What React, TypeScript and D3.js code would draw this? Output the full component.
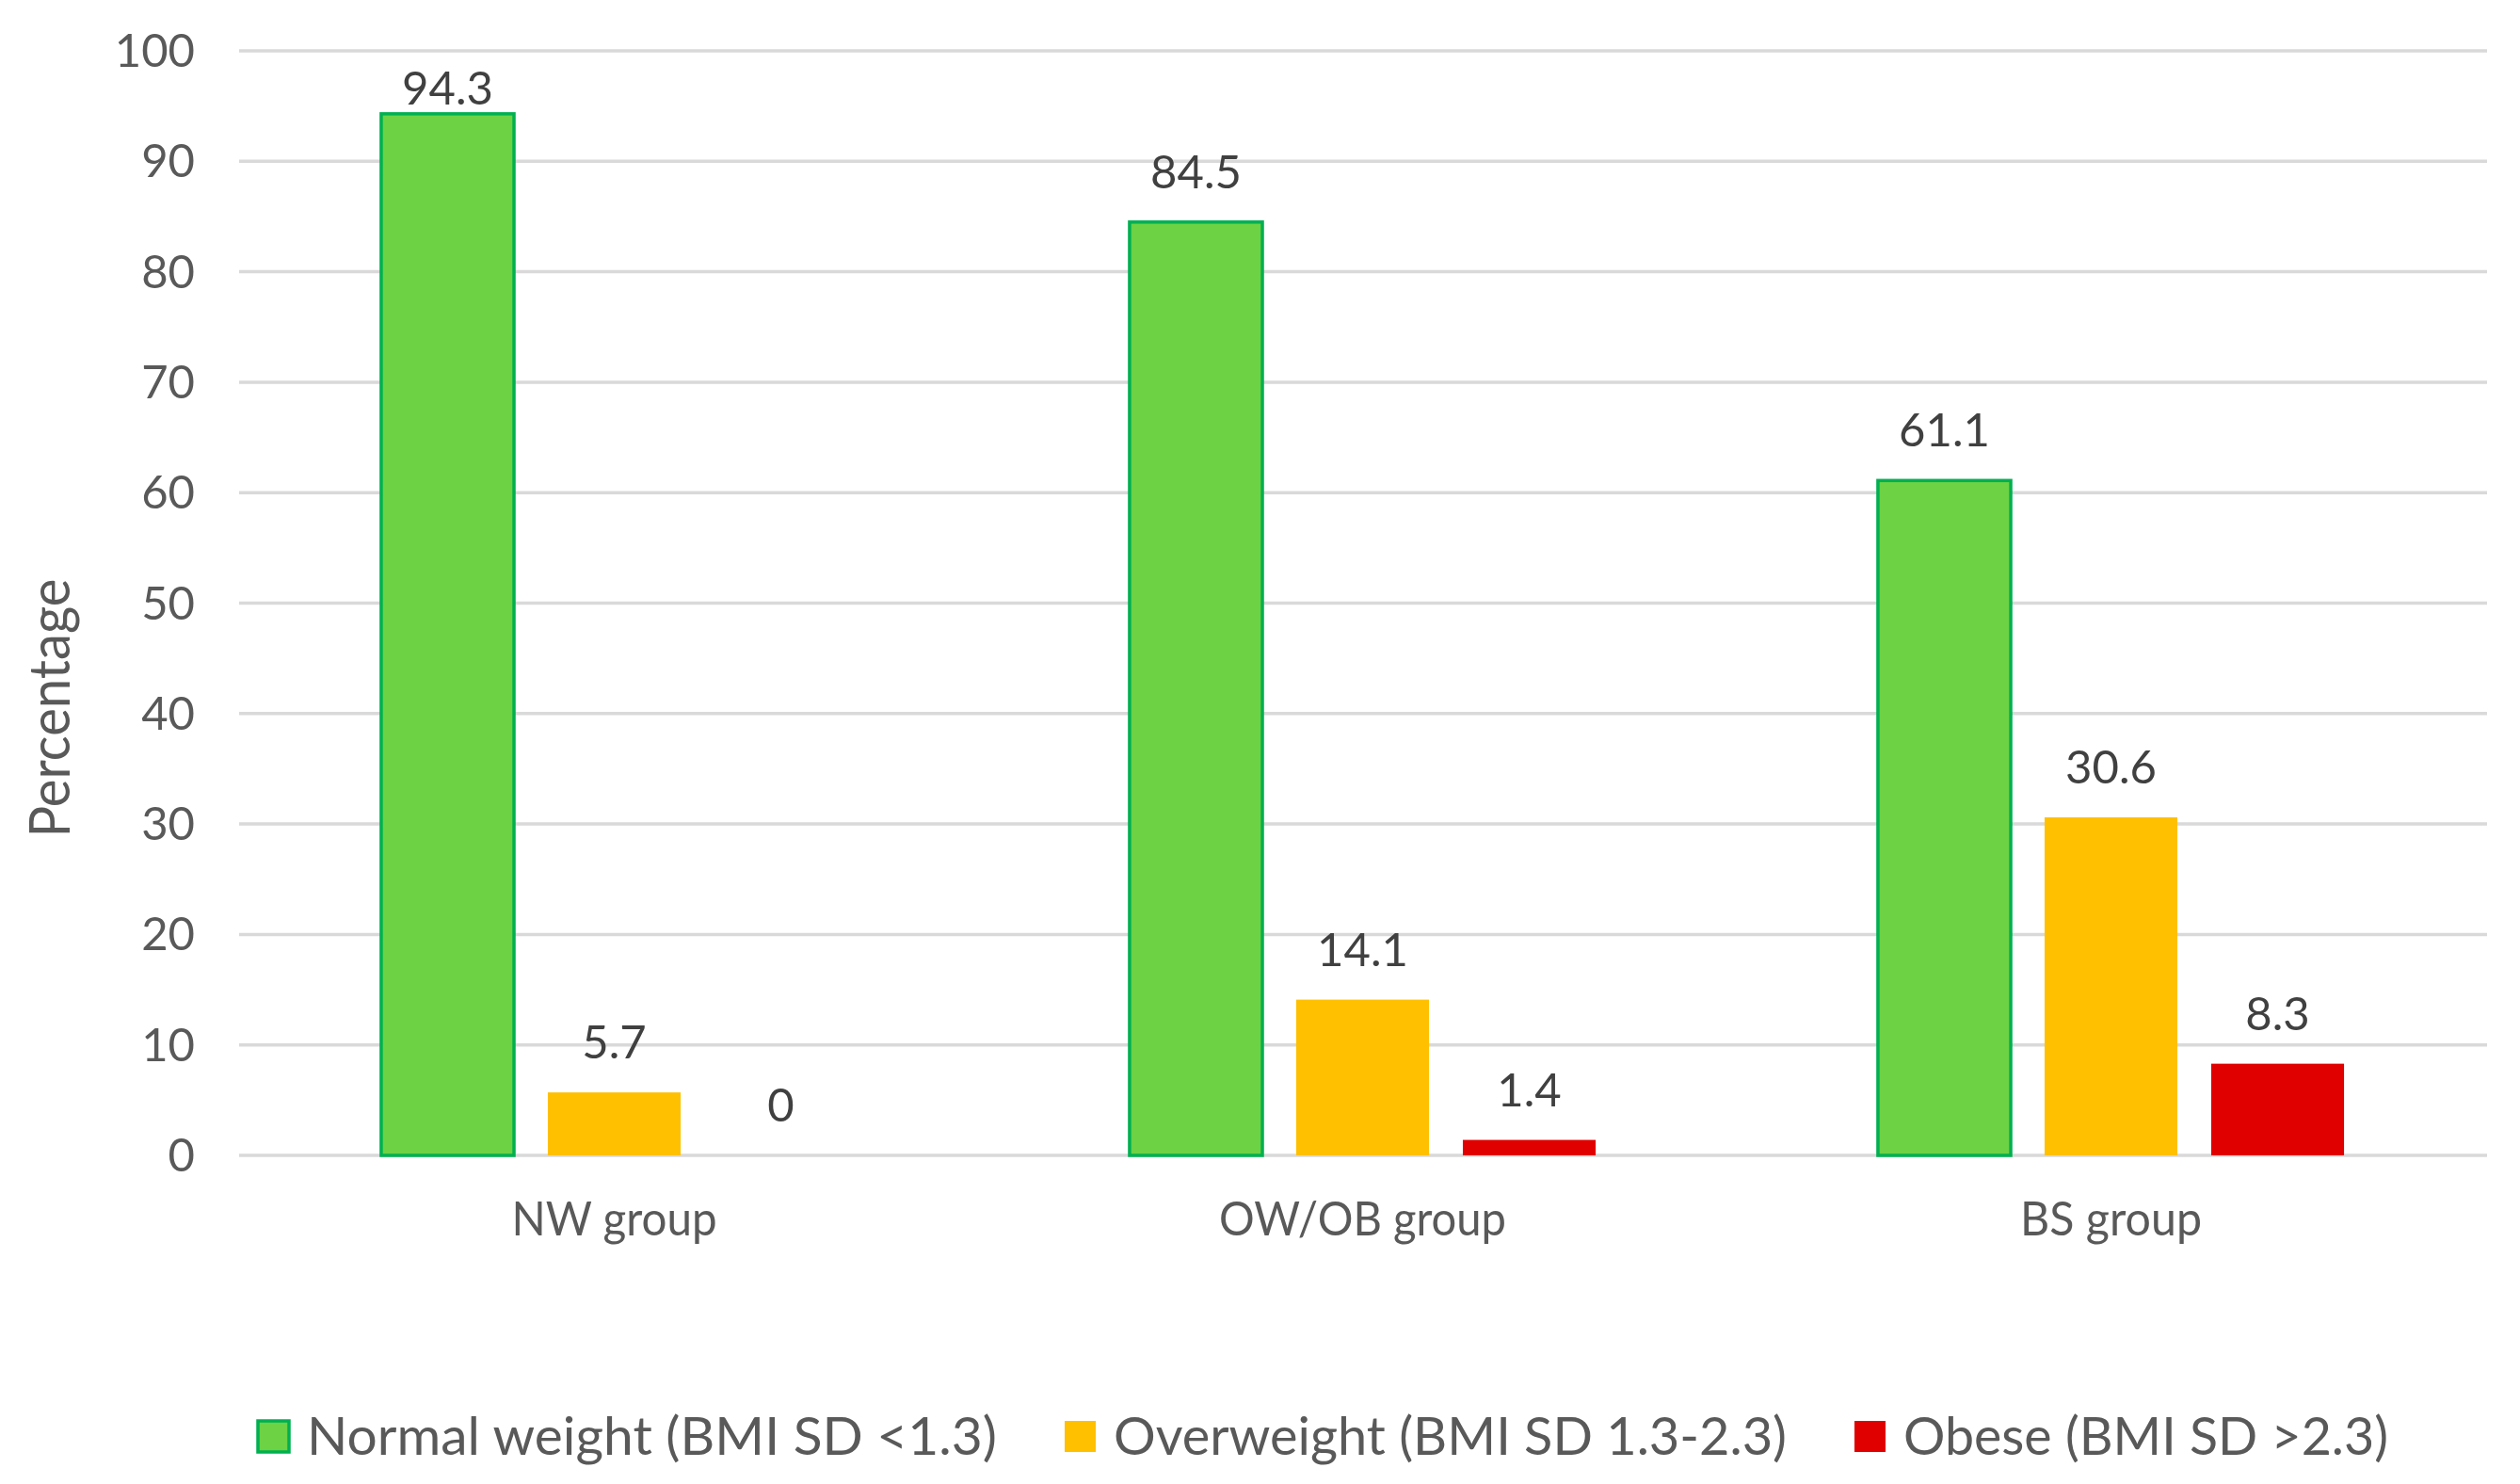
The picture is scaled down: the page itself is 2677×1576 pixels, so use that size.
import * as d3 from 'd3'

const categories = ['NW group', 'OW/OB group', 'BS group']
const seriesNames = ['Normal weight (BMI SD <1.3)', 'Overweight (BMI SD 1.3-2.3)', 'Obese (BMI SD >2.3)']
const normalWeight = [94.3, 84.5, 61.1]
const overweight = [5.7, 14.1, 30.6]
const obese = [0, 1.4, 8.3]
const yTicks = [0, 10, 20, 30, 40, 50, 60, 70, 80, 90, 100]

const seriesValues = [normalWeight, overweight, obese]
const fills = ['#6DD244', '#FFC000', '#E00000']
const strokes = ['#00B050', 'none', 'none']

const W = 2677
const H = 1576
const plot = { left: 255, right: 2640, top: 54, bottom: 1227 }
const font = 'Lato, "Open Sans", sans-serif'

// measured widths of the condensed reference text
const catWidths = [218, 305, 193]
const legendWidths = [733, 715, 515]

const App = () => {
    const x0 = d3.scaleBand<string>().domain(categories).range([plot.left, plot.right]).padding(0)
    const x1 = d3.scaleBand<number>()
        .domain(d3.range(seriesNames.length))
        .range([0, x0.bandwidth()])
        .paddingInner(0.203)
        .paddingOuter(0.847)
    const y = d3.scaleLinear().domain([0, 100]).range([plot.bottom, plot.top])

    // legend x positions, laid out left to right
    const legendX: number[] = []
    let lx = 274
    seriesNames.forEach((_, i) => {
        legendX.push(lx)
        lx += 33 + 19 + legendWidths[i] + 72
    })

    return (
        <svg width={W} height={H} style={{ position: 'absolute', left: 0, top: 0, background: '#fff' }}>
            <rect width={W} height={H} fill="#fff" />
            <g>
                {yTicks.map(t => (
                    <g key={t}>
                        <line x1={plot.left - 1} x2={plot.right + 2} y1={y(t)} y2={y(t)} stroke="#D9D9D9" strokeWidth={3.5} />
                        <text x={207} y={y(t) + 17} textAnchor="end" fontFamily={font} fontSize={49} fill="#595959">{t}</text>
                    </g>
                ))}
            </g>
            <text
                transform={`translate(74,752) rotate(-90)`}
                textAnchor="middle"
                fontFamily={font}
                fontSize={60}
                fill="#595959"
                textLength={275}
                lengthAdjust="spacingAndGlyphs"
            >Percentage</text>
            {categories.map((c, ci) => (
                <g key={c} transform={`translate(${x0(c)},0)`}>
                    {seriesValues.map((vals, si) => {
                        const v = vals[ci]
                        const bx = x1(si)!
                        const bw = x1.bandwidth()
                        const top = y(v)
                        const labelY = Math.max(top - 36, y(100) + 57)
                        return (
                            <g key={si}>
                                {v > 0 && (
                                    <rect
                                        x={bx}
                                        y={top}
                                        width={bw}
                                        height={y(0) - top}
                                        fill={fills[si]}
                                        stroke={strokes[si]}
                                        strokeWidth={3.5}
                                    />
                                )}
                                <text x={bx + bw / 2} y={labelY} textAnchor="middle" fontFamily={font} fontSize={49} fill="#404040">{v}</text>
                            </g>
                        )
                    })}
                    <text
                        x={x0.bandwidth() / 2}
                        y={1312}
                        textAnchor="middle"
                        fontFamily={font}
                        fontSize={51}
                        fill="#595959"
                        textLength={catWidths[ci]}
                        lengthAdjust="spacingAndGlyphs"
                    >{c}</text>
                </g>
            ))}
            <g>
                {seriesNames.map((s, i) => (
                    <g key={s} transform={`translate(${legendX[i]},0)`}>
                        <rect
                            x={0}
                            y={1509}
                            width={33}
                            height={33}
                            fill={fills[i]}
                            stroke={strokes[i]}
                            strokeWidth={3.5}
                        />
                        <text
                            x={52}
                            y={1545}
                            fontFamily={font}
                            fontSize={56}
                            fill="#595959"
                            textLength={legendWidths[i]}
                            lengthAdjust="spacingAndGlyphs"
                        >{s}</text>
                    </g>
                ))}
            </g>
        </svg>
    )
}

export default App
